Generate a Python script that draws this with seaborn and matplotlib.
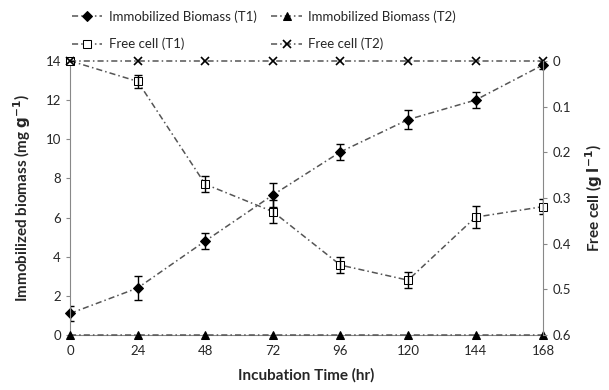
import numpy as np
import pandas as pd
import matplotlib.pyplot as plt
import seaborn as sns

# data
time_hr = [0, 24, 48, 72, 96, 120, 144, 168]
imm_t1 = [1.1, 2.4, 4.8, 7.15, 9.35, 11.0, 12.0, 13.8]
imm_t1_err = [0.4, 0.6, 0.4, 0.6, 0.4, 0.5, 0.4, 0.2]
imm_t2 = [0, 0, 0, 0, 0, 0, 0, 0]
free_t1 = [0.0, 0.045, 0.27, 0.33, 0.447, 0.48, 0.342, 0.319]
free_t1_err = [0.0, 0.014, 0.018, 0.025, 0.017, 0.018, 0.024, 0.016]
free_t2 = [0, 0, 0, 0, 0, 0, 0, 0]

sns.set_style("white")
plt.rcParams['font.family'] = ['Lato', 'DejaVu Sans']

fig, ax = plt.subplots(figsize=(6.09, 3.9), dpi=100)
fig.subplots_adjust(left=0.115, right=0.892, top=0.844, bottom=0.141)
ax2 = ax.twinx()

line_kw = dict(color='#555555', linestyle=(0, (4, 2, 1, 2)), linewidth=1.1)

df = pd.DataFrame({'t': time_hr, 'imm1': imm_t1, 'imm2': imm_t2,
                   'free1': free_t1, 'free2': free_t2})

sns.lineplot(data=df, x='t', y='imm1', ax=ax, marker='D', markersize=5,
             markerfacecolor='black', markeredgecolor='black',
             label='Immobilized Biomass (T1)', clip_on=False, **line_kw)
sns.lineplot(data=df, x='t', y='imm2', ax=ax, marker='^', markersize=6,
             markerfacecolor='black', markeredgecolor='black',
             label='Immobilized Biomass (T2)', clip_on=False, zorder=5, **line_kw)
ax.errorbar(time_hr, imm_t1, yerr=imm_t1_err, fmt='none', ecolor='black',
            elinewidth=1, capsize=3, capthick=1)

sns.lineplot(data=df, x='t', y='free1', ax=ax2, marker='s', markersize=6,
             markerfacecolor='white', markeredgecolor='black',
             label='Free cell (T1)', clip_on=False, **line_kw)
sns.lineplot(data=df, x='t', y='free2', ax=ax2, marker='x', markersize=6,
             markeredgecolor='black', markeredgewidth=1.2,
             label='Free cell (T2)', clip_on=False, **line_kw)
ax2.errorbar(time_hr, free_t1, yerr=free_t1_err, fmt='none', ecolor='black',
             elinewidth=1, capsize=3, capthick=1)

ax.set_xlim(0, 168)
ax.set_xticks(time_hr)
ax.set_ylim(0, 14)
ax.set_yticks(np.arange(0, 15, 2))
ax2.set_ylim(0.6, 0)
ax2.set_yticks([0, 0.1, 0.2, 0.3, 0.4, 0.5, 0.6])
ax2.set_yticklabels(['0', '0.1', '0.2', '0.3', '0.4', '0.5', '0.6'])

ax.set_xlabel('Incubation Time (hr)', fontsize=11, fontweight='bold', labelpad=8)
ax.set_ylabel(r'Immobilized biomass (mg $\mathbf{g^{-1}}$)', fontsize=11,
              fontweight='bold', labelpad=9)
ax2.set_ylabel(r'Free cell ($\mathbf{g}$ $\mathbf{l^{-1}}$)', fontsize=11,
               fontweight='bold', labelpad=9)

for a in (ax, ax2):
    a.tick_params(labelsize=9.5, length=3, color='#888888', direction='out')
    for s in a.spines.values():
        s.set_color('#888888')
    a.spines['top'].set_visible(False)
ax.spines['right'].set_visible(False)
ax2.spines['left'].set_visible(False)
ax2.spines['bottom'].set_visible(False)
ax.tick_params(axis='x', length=0, pad=7)
ax.tick_params(axis='y', left=True)
ax2.tick_params(axis='y', right=True)

ax.get_legend().remove()
ax2.get_legend().remove()
h1, l1 = ax.get_legend_handles_labels()
h2, l2 = ax2.get_legend_handles_labels()
# column-wise fill: col 1 = T1 series, col 2 = T2 series
handles = [h1[0], h2[0], h1[1], h2[1]]
labels = [l1[0], l2[0], l1[1], l2[1]]
fig.legend(handles, labels, ncol=2, frameon=False, loc='upper left',
           bbox_to_anchor=(72 / 609, 1 - 10 / 390), borderpad=0, borderaxespad=0,
           fontsize=9.5, handlelength=2.3, handletextpad=0.5,
           columnspacing=1.1, labelspacing=1.15)

fig.savefig('out.png', dpi=100)
